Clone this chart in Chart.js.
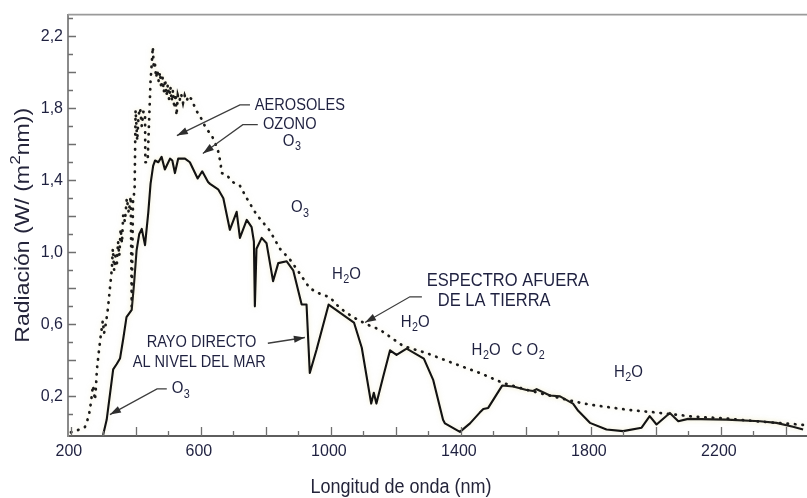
<!DOCTYPE html>
<html>
<head>
<meta charset="utf-8">
<script src="https://cdn.jsdelivr.net/npm/chart.js@4.4.1/dist/chart.umd.min.js"></script>
<style>
  html, body { margin: 0; padding: 0; background: #ffffff; }
  #wrap { width: 807px; height: 498px; position: relative; }
  canvas { display: block; }
</style>
</head>
<body>
<div id="wrap"><canvas id="c" width="807" height="498"></canvas></div>
<script>
// Solar spectral irradiance: outside the atmosphere (dotted) and direct beam at sea level (solid)

// Extraterrestrial spectrum, wavelength (nm) and irradiance (W/(m² nm))
const outsideNm = [200, 218, 243, 255, 262, 265, 268, 274, 277, 280, 286, 292, 298, 302, 308, 314, 320, 326, 329, 333,
  337, 341, 345, 349, 353, 357, 361, 366, 372, 378, 384, 387, 391, 396, 399, 404, 408, 413, 418, 423,
  428, 429, 436, 440, 445, 452, 455, 458, 462, 466, 470, 474, 478, 482, 486, 490, 494, 498, 502, 506,
  510, 514, 518, 522, 525, 529, 534, 539, 545, 550, 556, 562, 571, 585, 602, 615, 633, 643, 652, 660,
  664, 679, 698, 720, 741, 771, 812, 843, 874, 905, 935, 966, 997, 1028, 1068, 1110, 1151, 1222, 1295, 1375,
  1458, 1529, 1603, 1705, 1766, 1797, 1911, 2003, 2114, 2218, 2320, 2403, 2465];
const outsideRad = [0.0, 0.01, 0.03, 0.09, 0.17, 0.22, 0.26, 0.18, 0.25, 0.35, 0.45, 0.54, 0.62, 0.55, 0.61, 0.69, 0.80, 0.91, 1.02, 0.90,
  0.98, 0.92, 1.06, 0.98, 1.13, 1.05, 1.21, 1.17, 1.30, 1.22, 1.31, 0.70, 1.28, 1.35, 1.79, 1.62, 1.76, 1.80, 1.70, 1.78,
  1.78, 1.50, 1.50, 1.70, 1.95, 2.14, 2.02, 2.06, 1.97, 2.01, 1.95, 2.00, 1.91, 1.97, 1.89, 1.96, 1.87, 1.93, 1.85, 1.92,
  1.84, 1.90, 1.80, 1.88, 1.76, 1.87, 1.84, 1.88, 1.83, 1.87, 1.84, 1.87, 1.85, 1.79, 1.74, 1.69, 1.65, 1.61, 1.57, 1.50,
  1.44, 1.43, 1.39, 1.37, 1.30, 1.21, 1.12, 1.02, 0.96, 0.88, 0.80, 0.77, 0.75, 0.69, 0.64, 0.60, 0.57, 0.48, 0.44, 0.385,
  0.33, 0.275, 0.236, 0.19, 0.165, 0.154, 0.126, 0.11, 0.088, 0.077, 0.06, 0.049, 0.04];

// Direct solar beam at sea level
const seaLevelNm = [299, 310, 320, 330, 341, 351, 361, 371, 387, 394, 402, 410, 418, 428, 438, 445, 453, 459, 469, 479,
  489, 505, 512, 520, 530, 551, 566, 590, 604, 622, 628, 653, 669, 689, 710, 720, 741, 756, 763, 766,
  771, 787, 802, 822, 838, 864, 884, 910, 925, 935, 956, 993, 1071, 1095, 1124, 1132, 1140, 1161, 1182, 1202,
  1233, 1286, 1315, 1345, 1351, 1397, 1428, 1458, 1469, 1484, 1527, 1561, 1602, 1622, 1633, 1674, 1705, 1745, 1761, 1797,
  1848, 1899, 1956, 1981, 2002, 2043, 2069, 2099, 2217, 2320, 2371, 2422, 2453];
const seaLevelRad = [-0.015, 0.07, 0.21, 0.35, 0.38, 0.41, 0.52, 0.64, 0.68, 0.82, 1.01, 1.10, 1.13, 1.04, 1.22, 1.38, 1.48, 1.51, 1.50, 1.53,
  1.46, 1.52, 1.51, 1.44, 1.52, 1.52, 1.50, 1.41, 1.45, 1.39, 1.38, 1.35, 1.30, 1.125, 1.225, 1.08, 1.18, 1.14, 1.06, 0.70,
  1.02, 1.08, 1.05, 0.84, 0.94, 0.95, 0.90, 0.71, 0.71, 0.33, 0.46, 0.71, 0.61, 0.47, 0.16, 0.22, 0.16, 0.31, 0.456, 0.43,
  0.465, 0.41, 0.29, 0.07, 0.05, 0.003, 0.05, 0.11, 0.13, 0.136, 0.26, 0.255, 0.235, 0.23, 0.24, 0.205, 0.20, 0.16, 0.12, 0.053,
  0.016, 0.007, 0.026, 0.09, 0.044, 0.108, 0.062, 0.075, 0.071, 0.062, 0.053, 0.031, 0.016];

// Axis ticks (every 100 nm / 0.1 unit) and the ones that carry a label
const xTickValues = [200, 300, 400, 500, 600, 700, 800, 900, 1000, 1100, 1200, 1300, 1400, 1500, 1600, 1700, 1800, 1900, 2000, 2100, 2200, 2300, 2400];
const xTickLabels = ['200', '600', '1000', '1400', '1800', '2200'];
const yTickValues = [0.1, 0.2, 0.3, 0.4, 0.5, 0.6, 0.7, 0.8, 0.9, 1.0, 1.1, 1.2, 1.3, 1.4, 1.5, 1.6, 1.7, 1.8, 1.9, 2.0, 2.1, 2.2, 2.3];
const yTickLabels = ['0,2', '0,6', '1,0', '1,4', '1,8', '2,2'];

const FONT = '"Liberation Sans", Arial, Helvetica, sans-serif';
const INK = '#1f2140';

// Text notes placed in data coordinates (left edge, vertical centre)
const notes = [
  { x: 766, y: 1.813, size: 14.6, parts: [['AEROSOLES']] },
  { x: 791, y: 1.711, size: 14.6, parts: [['OZONO']] },
  { x: 852, y: 1.615, size: 15, parts: [['O'], ['3', 'sub']] },
  { x: 877, y: 1.247, size: 15, parts: [['O'], ['3', 'sub']] },
  { x: 1003, y: 0.879, size: 15, parts: [['H'], ['2', 'sub'], ['O']] },
  { x: 1295, y: 0.84, size: 16.5, parts: [['ESPECTRO AFUERA']] },
  { x: 1329, y: 0.731, size: 16.5, parts: [['DE LA TIERRA']] },
  { x: 1215, y: 0.61, size: 15, parts: [['H'], ['2', 'sub'], ['O']] },
  { x: 1433, y: 0.456, size: 15, parts: [['H'], ['2', 'sub'], ['O']] },
  { x: 1556, y: 0.456, size: 15, parts: [['C O'], ['2', 'sub']] },
  { x: 1871, y: 0.335, size: 15, parts: [['H'], ['2', 'sub'], ['O']] },
  { x: 433, y: 0.497, size: 14.6, parts: [['RAYO DIRECTO']] },
  { x: 390, y: 0.39, size: 14.6, parts: [['AL NIVEL DEL MAR']] },
  { x: 510, y: 0.242, size: 15, parts: [['O'], ['3', 'sub']] }
];

// Leader arrows (last point is the arrow tip)
const arrows = [
  [[751, 1.819], [720, 1.819], [526, 1.648]],
  [[775, 1.709], [729, 1.709], [606, 1.549]],
  [[1280, 0.753], [1243, 0.753], [1105, 0.61]],
  [[806, 0.495], [920, 0.527]],
  [[495, 0.242], [465, 0.242], [320, 0.099]]
];

function drawRich(ctx, x, y, parts, size, opt) {
  opt = opt || {};
  ctx.save();
  ctx.translate(x, y);
  if (opt.rotate) ctx.rotate(-Math.PI / 2);
  ctx.scale(opt.sx || 1, opt.sy || 1);
  ctx.fillStyle = opt.color || INK;
  ctx.textBaseline = 'middle';
  ctx.textAlign = 'left';
  const items = parts.map(p => {
    const small = p[1] === 'sub' || p[1] === 'sup';
    const fs = small ? size * 0.72 : size;
    ctx.font = fs + 'px ' + FONT;
    return { t: p[0], mode: p[1], fs, w: ctx.measureText(p[0]).width + (small ? 0.5 : 0) };
  });
  const total = items.reduce((s, it) => s + it.w, 0);
  let cx = opt.align === 'center' ? -total / 2 : 0;
  items.forEach(it => {
    ctx.font = it.fs + 'px ' + FONT;
    let dy = 0;
    if (it.mode === 'sub') dy = size * 0.32;
    if (it.mode === 'sup') dy = -size * 0.36;
    ctx.fillText(it.t, cx + (it.mode ? 0.5 : 0), dy);
    cx += it.w;
  });
  ctx.restore();
}

const decorations = {
  id: 'decorations',
  beforeDatasetsDraw(chart) {
    const ctx = chart.ctx;
    ctx.save();
    ctx.shadowColor = 'rgba(232, 222, 165, 0.55)';
    ctx.shadowBlur = 5;
  },
  afterDatasetsDraw(chart) {
    chart.ctx.restore();
  },
  afterDraw(chart) {
    const { ctx, chartArea: a, scales: { x, y } } = chart;

    // frame top line
    ctx.save();
    ctx.strokeStyle = '#9a9a9a';
    ctx.lineWidth = 1.6;
    ctx.beginPath();
    ctx.moveTo(a.left, a.top);
    ctx.lineTo(a.right, a.top);
    ctx.stroke();

    // inward tick marks
    ctx.strokeStyle = '#6f6f6f';
    ctx.lineWidth = 1.3;
    ctx.beginPath();
    x.ticks.forEach(t => {
      const px = Math.round(x.getPixelForValue(t.value)) + 0.5;
      const len = t.value % 200 === 0 ? 9 : 5;
      ctx.moveTo(px, a.bottom);
      ctx.lineTo(px, a.bottom - len);
    });
    y.ticks.forEach(t => {
      const py = Math.round(y.getPixelForValue(t.value)) + 0.5;
      const len = Math.round(t.value * 10) % 2 === 0 ? 8 : 5;
      ctx.moveTo(a.left, py);
      ctx.lineTo(a.left + len, py);
    });
    ctx.stroke();

    // arrows
    ctx.strokeStyle = '#3d3d3d';
    ctx.fillStyle = '#2e2e2e';
    ctx.lineWidth = 1.3;
    arrows.forEach(pts => {
      const p = pts.map(q => [x.getPixelForValue(q[0]), y.getPixelForValue(q[1])]);
      ctx.beginPath();
      ctx.moveTo(p[0][0], p[0][1]);
      for (let i = 1; i < p.length; i++) ctx.lineTo(p[i][0], p[i][1]);
      ctx.stroke();
      const [x1, y1] = p[p.length - 2];
      const [x2, y2] = p[p.length - 1];
      const ang = Math.atan2(y2 - y1, x2 - x1);
      const L = 11, W = 3.6;
      ctx.beginPath();
      ctx.moveTo(x2, y2);
      ctx.lineTo(x2 - L * Math.cos(ang) + W * Math.sin(ang), y2 - L * Math.sin(ang) - W * Math.cos(ang));
      ctx.lineTo(x2 - L * Math.cos(ang) - W * Math.sin(ang), y2 - L * Math.sin(ang) + W * Math.cos(ang));
      ctx.closePath();
      ctx.fill();
    });
    ctx.restore();

    // notes
    notes.forEach(n => {
      drawRich(ctx, x.getPixelForValue(n.x), y.getPixelForValue(n.y), n.parts, n.size, { sy: 1.12 });
    });

    // axis titles
    drawRich(ctx, 401, 487, [['Longitud de onda (nm)']], 18, { sy: 1.15, align: 'center', color: '#24243a' });
    drawRich(ctx, 23, (a.top + a.bottom) / 2, [['Radiación (W/ (m'], ['2', 'sup'], ['nm))']], 20,
      { rotate: true, sx: 1.15, align: 'center', color: '#24243a' });
  }
};

const chart = new Chart(document.getElementById('c'), {
  type: 'line',
  data: {
    datasets: [
      {
        label: 'Espectro afuera de la tierra',
        data: outsideNm.map((v, i) => ({ x: v, y: outsideRad[i] })),
        borderColor: '#1b1b1b',
        borderWidth: 2.7,
        borderDash: [0.5, 7],
        borderCapStyle: 'round',
        pointRadius: 0,
        tension: 0,
        fill: false
      },
      {
        label: 'Rayo directo al nivel del mar',
        data: seaLevelNm.map((v, i) => ({ x: v, y: seaLevelRad[i] })),
        borderColor: '#121212',
        borderWidth: 2.1,
        borderJoinStyle: 'round',
        pointRadius: 0,
        tension: 0,
        fill: false
      }
    ]
  },
  options: {
    responsive: false,
    animation: false,
    devicePixelRatio: 1,
    layout: { padding: { top: 11, right: 0, left: 0, bottom: 0 } },
    plugins: { legend: { display: false }, tooltip: { enabled: false } },
    scales: {
      x: {
        type: 'linear',
        min: 191,
        max: 2465,
        afterBuildTicks: s => { s.ticks = xTickValues.map(v => ({ value: v })); },
        afterFit: s => { s.height = 62; },
        grid: { display: false, drawTicks: false },
        border: { display: true, color: '#5e5e5e', width: 2 },
        ticks: {
          padding: 6,
          labelOffset: -2,
          autoSkip: false,
          maxRotation: 0,
          color: INK,
          font: { family: FONT, size: 16 },
          callback: v => (xTickLabels.includes(String(v)) ? String(v) : '')
        }
      },
      y: {
        type: 'linear',
        min: -0.02,
        max: 2.32,
        afterBuildTicks: s => { s.ticks = yTickValues.map(v => ({ value: v })); },
        afterFit: s => { s.width = 68; },
        grid: { display: false, drawTicks: false },
        border: { display: true, color: '#8a8a8a', width: 2 },
        ticks: {
          padding: 5,
          autoSkip: false,
          color: INK,
          font: { family: FONT, size: 16 },
          callback: v => {
            const s = Number(v).toFixed(1).replace('.', ',');
            return yTickLabels.includes(s) ? s : '';
          }
        }
      }
    }
  },
  plugins: [decorations]
});
</script>
</body>
</html>
